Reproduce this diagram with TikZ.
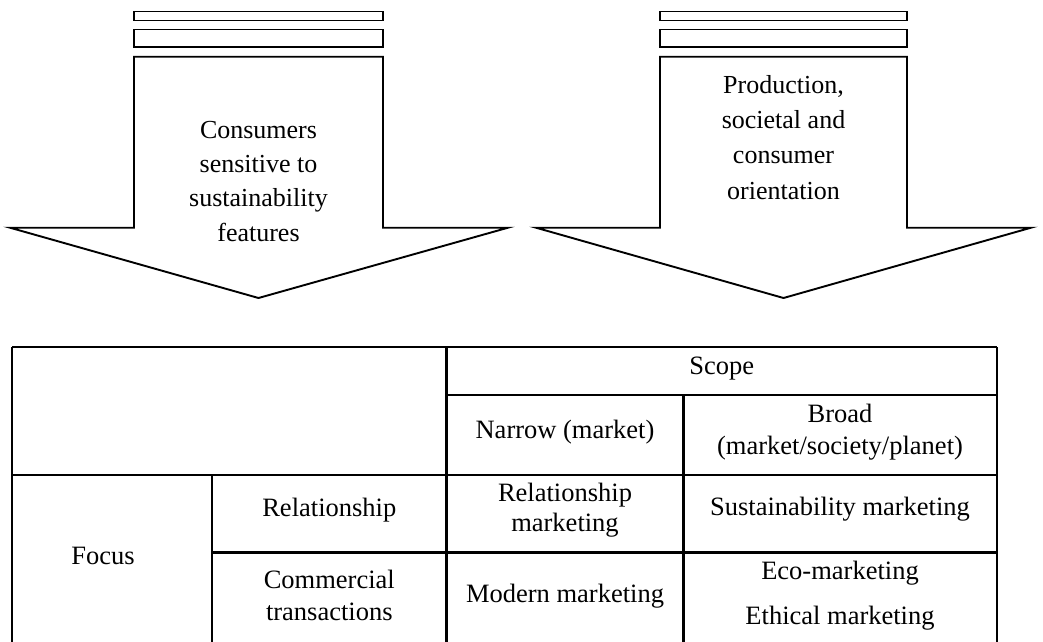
\documentclass[tikz,border=0pt]{standalone}
\usepackage{fontspec}
\setmainfont{Liberation Serif}
\begin{document}
\begin{tikzpicture}[x=1pt,y=-1pt,
  arrowline/.style={draw=black,line width=1.9pt,line join=miter},
  gridline/.style={draw=black,line width=2.5pt},
  atext/.style={anchor=base,inner sep=0pt,font=\fontsize{26}{34}\selectfont},
  ttext/.style={anchor=base,inner sep=0pt,font=\fontsize{26.5}{30}\selectfont}]
\useasboundingbox (0,0) rectangle (1043,641);
\clip (0,0) rectangle (1043,641);
% left arrow
\draw[arrowline] (134,11.5) rectangle (383,20.5);
\draw[arrowline] (134,29.5) rectangle (383,47.3);
\draw[arrowline] (134,56.7) -- (383,56.7) -- (383,227.7) -- (508,227.7) -- (258.5,298) -- (10,227.7) -- (134,227.7) -- cycle;
\node[atext] (la1) at (258.5,138) {Consumers};
\node[atext] (la2) at (258.5,172.3) {sensitive to};
\node[atext] (la3) at (258.5,206.6) {sustainability};
\node[atext] (la4) at (258.5,241) {features};
% right arrow
\draw[arrowline] (660,11.5) rectangle (907,20.5);
\draw[arrowline] (660,29.5) rectangle (907,47.3);
\draw[arrowline] (660,56.7) -- (907,56.7) -- (907,227.7) -- (1031,227.7) -- (783.5,298) -- (536,227.7) -- (660,227.7) -- cycle;
\node[atext] (ra1) at (783.5,93) {Production,};
\node[atext] (ra2) at (783.5,128.3) {societal and};
\node[atext] (ra3) at (783.5,163.6) {consumer};
\node[atext] (ra4) at (783.5,199) {orientation};
% table grid
\draw[gridline] (12,347) -- (997,347);
\draw[gridline] (446.7,395) -- (997,395);
\draw[gridline] (12,475) -- (997,475);
\draw[gridline] (212,552.7) -- (997,552.7);
\draw[gridline] (12,347) -- (12,660);
\draw[gridline] (997,347) -- (997,660);
\draw[gridline] (446.7,347) -- (446.7,660);
\draw[gridline] (683.3,395) -- (683.3,660);
\draw[gridline] (212,475) -- (212,660);
% table text
\node[ttext] (scope) at (721.7,374) {Scope};
\node[ttext] (narrow) at (565,438) {Narrow (market)};
\node[ttext] (broad1) at (840,422) {Broad};
\node[ttext] (broad2) at (840,454) {(market/society/planet)};
\node[ttext] (focus) at (103,564) {Focus};
\node[ttext] (rel) at (329.3,516) {Relationship};
\node[ttext] (com1) at (329.3,588) {Commercial};
\node[ttext] (com2) at (329.3,620) {transactions};
\node[ttext] (relm1) at (565,501) {Relationship};
\node[ttext] (relm2) at (565,531) {marketing};
\node[ttext] (sus) at (840,515) {Sustainability marketing};
\node[ttext] (mod) at (565,602) {Modern marketing};
\node[ttext] (eco) at (840,579) {Eco-marketing};
\node[ttext] (eth) at (840,624) {Ethical marketing};
\end{tikzpicture}
\end{document}
